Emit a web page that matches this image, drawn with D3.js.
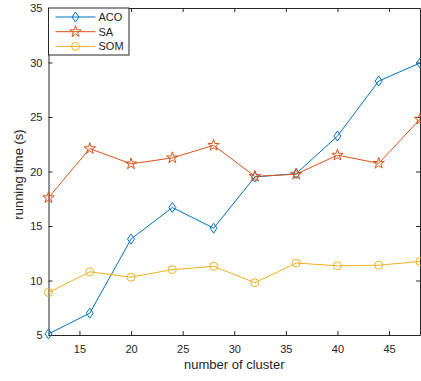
<!DOCTYPE html>
<html>
<head>
<meta charset="utf-8">
<script src="https://cdn.jsdelivr.net/npm/d3@7"></script>
<style>
  body { margin: 0; background: #fff; }
  text { font-family: "Liberation Sans", Arial, sans-serif; fill: #262626; }
</style>
</head>
<body>
<svg id="chart" width="421" height="381"></svg>
<script>
const clusters = [12, 16, 20, 24, 28, 32, 36, 40, 44, 48]
const aco = [5.1, 7.0, 13.8, 16.7, 14.8, 19.5, 19.8, 23.25, 28.3, 29.95]
const sa = [17.6, 22.1, 20.7, 21.25, 22.4, 19.55, 19.75, 21.5, 20.75, 24.8]
const som = [8.9, 10.8, 10.3, 11.0, 11.3, 9.8, 11.6, 11.35, 11.4, 11.75]
const xTicks = [15, 20, 25, 30, 35, 40, 45]
const yTicks = [5, 10, 15, 20, 25, 30, 35]

const series = [
  { name: "ACO", values: aco, color: "#0072BD", marker: "diamond" },
  { name: "SA", values: sa, color: "#D95319", marker: "star" },
  { name: "SOM", values: som, color: "#EDB120", marker: "circle" }
]

const margin = { top: 8, right: 1, bottom: 46, left: 48.5 }
const width = 421, height = 381
const svg = d3.select("#chart")

const xScale = d3.scaleLinear().domain([12, 48]).range([margin.left, width - margin.right])
const yScale = d3.scaleLinear().domain([5, 35]).range([height - margin.bottom, margin.top])

// axes (box on, ticks inside)
const axisColor = "#262626"
const gx = svg.append("g").attr("transform", "translate(0," + (height - margin.bottom) + ")")
  .call(d3.axisBottom(xScale).tickValues(xTicks).tickSizeInner(-4).tickSizeOuter(0).tickPadding(10))
const gxTop = svg.append("g").attr("transform", "translate(0," + margin.top + ")")
  .call(d3.axisTop(xScale).tickValues(xTicks).tickSizeInner(-4).tickSizeOuter(0).tickFormat(""))
const gy = svg.append("g").attr("transform", "translate(" + margin.left + ",0)")
  .call(d3.axisLeft(yScale).tickValues(yTicks).tickSizeInner(-4).tickSizeOuter(0).tickPadding(6))
const gyRight = svg.append("g").attr("transform", "translate(" + (width - margin.right) + ",0)")
  .call(d3.axisRight(yScale).tickValues(yTicks).tickSizeInner(-4).tickSizeOuter(0).tickFormat(""))

;[gx, gxTop, gy, gyRight].forEach(g => {
  g.select(".domain").attr("stroke", axisColor).attr("stroke-width", 1)
  g.selectAll(".tick line").attr("stroke", axisColor)
  g.selectAll("text").attr("font-size", "11px").attr("fill", axisColor)
    .style("font-family", "'Liberation Sans', Arial, sans-serif")
})

// markers
function markerPath(type) {
  if (type === "diamond") return "M0,-5L3.5,0L0,5L-3.5,0Z"
  if (type === "circle") return d3.symbol().type(d3.symbolCircle).size(50)()
  return d3.symbol().type(d3.symbolStar).size(40)()
}

const line = d3.line().x((d, i) => xScale(clusters[i])).y(d => yScale(d))

series.forEach(s => {
  svg.append("path")
    .attr("d", line(s.values))
    .attr("fill", "none")
    .attr("stroke", s.color)
    .attr("stroke-width", 1)
  svg.append("g").selectAll("path")
    .data(s.values)
    .enter().append("path")
    .attr("d", markerPath(s.marker))
    .attr("transform", (d, i) => "translate(" + xScale(clusters[i]) + "," + yScale(d) + ")")
    .attr("fill", "none")
    .attr("stroke", s.color)
    .attr("stroke-width", 1)
})

// axis labels
svg.append("text")
  .attr("x", (margin.left + width - margin.right) / 2)
  .attr("y", 369)
  .attr("text-anchor", "middle")
  .attr("font-size", "13px")
  .text("number of cluster")

svg.append("text")
  .attr("transform", "translate(22.5," + ((margin.top + height - margin.bottom) / 2 + 3) + ") rotate(-90)")
  .attr("text-anchor", "middle")
  .attr("font-size", "13px")
  .text("running time (s)")

// legend
const legend = svg.append("g").attr("transform", "translate(" + margin.left + "," + margin.top + ")")
legend.append("rect")
  .attr("x", 0).attr("y", 0).attr("width", 80.5).attr("height", 47)
  .attr("fill", "#fff").attr("stroke", axisColor).attr("stroke-width", 1)
series.forEach((s, i) => {
  const ly = 9 + i * 14.7
  legend.append("line")
    .attr("x1", 7).attr("x2", 47).attr("y1", ly).attr("y2", ly)
    .attr("stroke", s.color).attr("stroke-width", 1)
  legend.append("path")
    .attr("d", markerPath(s.marker))
    .attr("transform", "translate(27," + ly + ")")
    .attr("fill", "none").attr("stroke", s.color)
  legend.append("text")
    .attr("x", 50).attr("y", ly + 4)
    .attr("font-size", "11px")
    .text(s.name)
})
</script>
</body>
</html>
